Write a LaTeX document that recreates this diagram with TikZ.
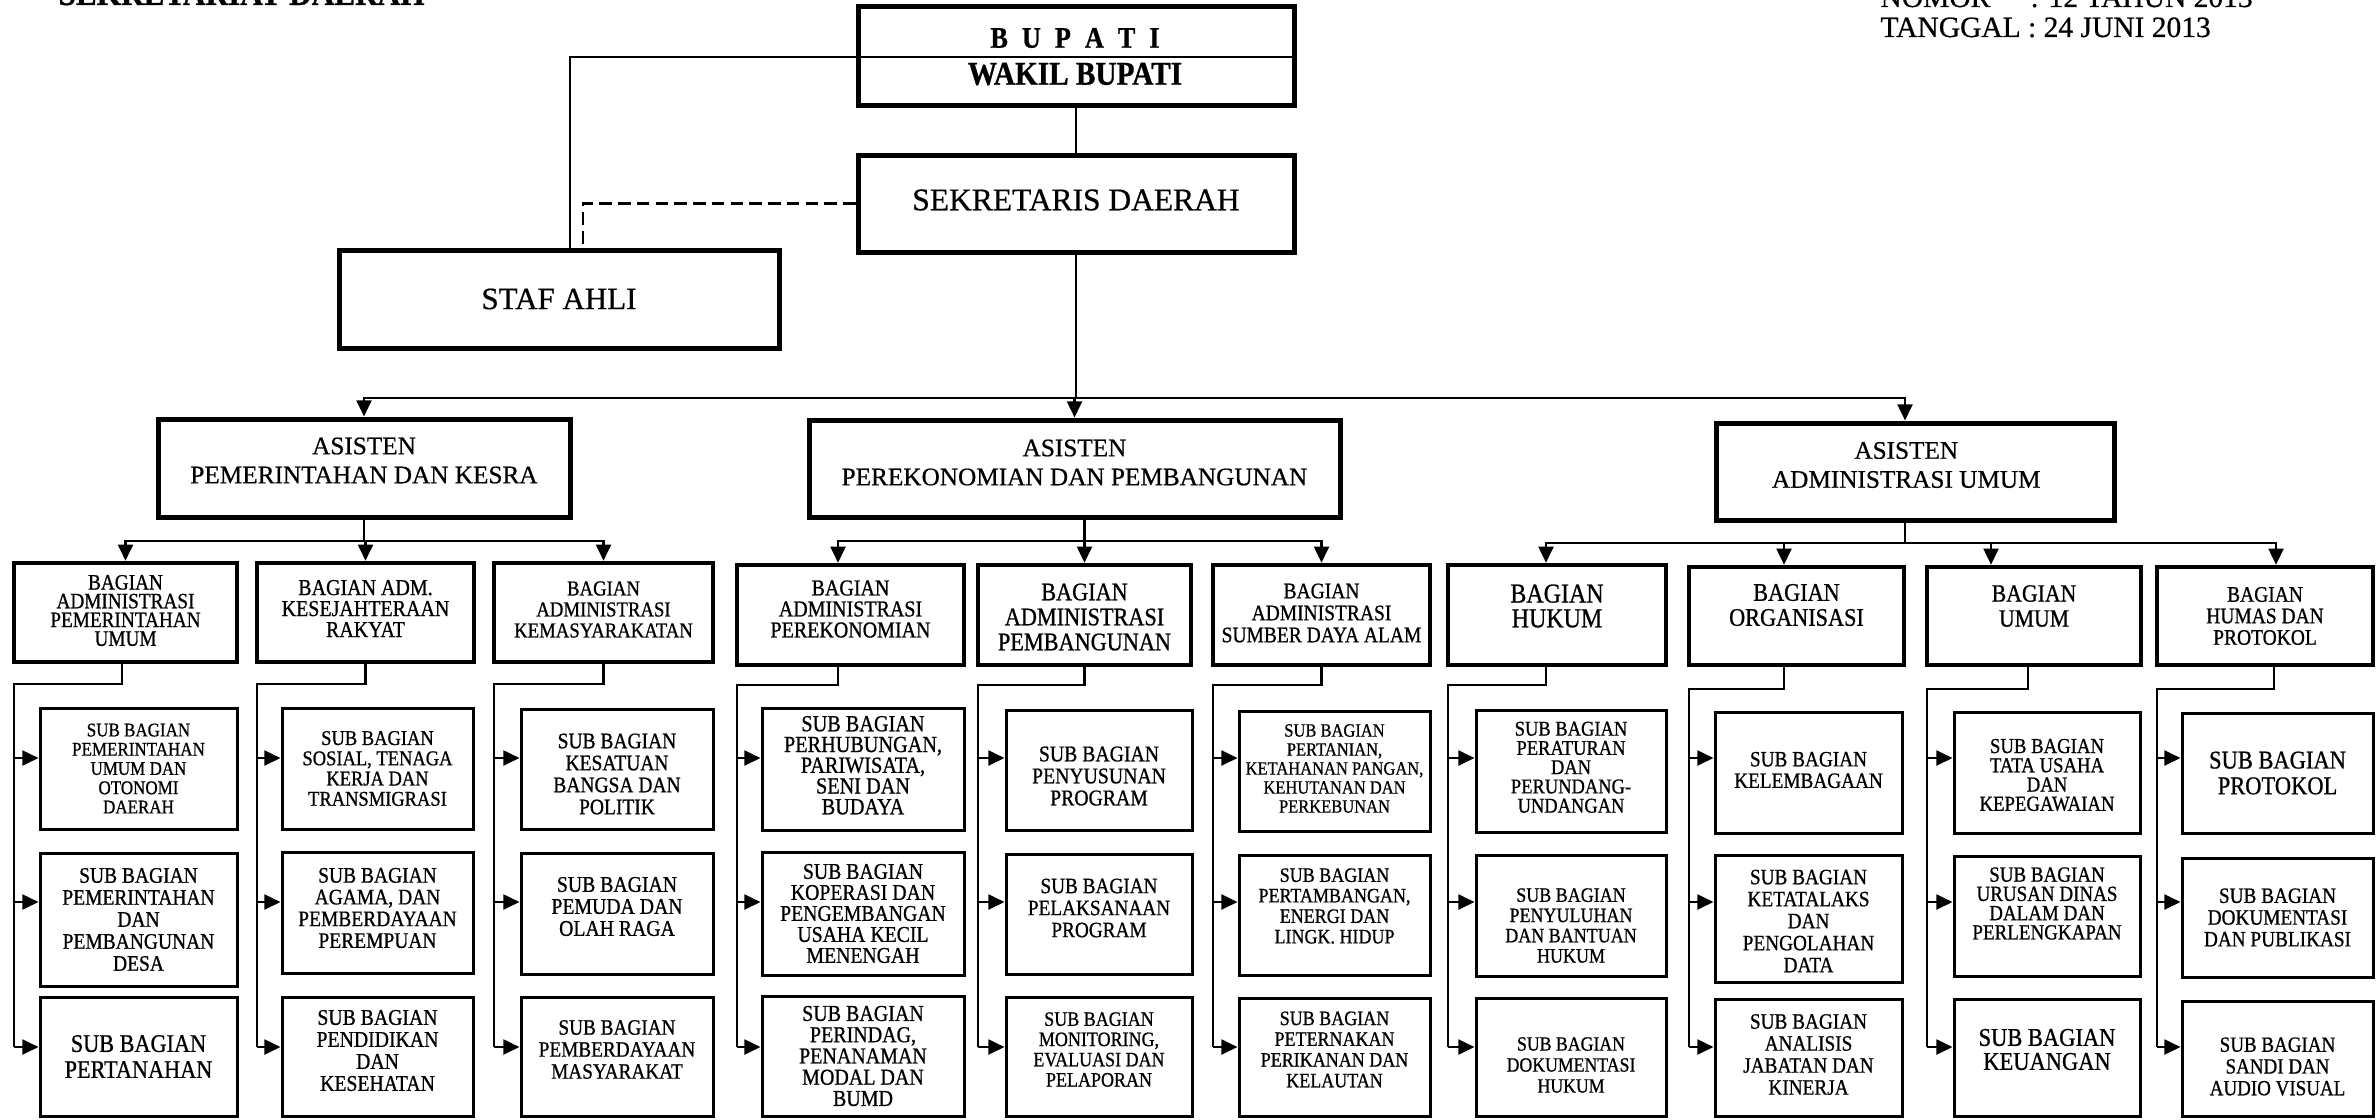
\documentclass[tikz,border=0pt]{standalone}
\usepackage{fontspec}
\setmainfont{Liberation Serif}
\newfontfamily\bxf{Liberation Serif}[FakeStretch=0.88, FakeBold=0.8]
\newfontfamily\mnf{Liberation Serif}[FakeBold=0.6]
\usetikzlibrary{fit,arrows.meta,calc}
\newcommand\fs[2]{\bxf\fontsize{\fpeval{#1/0.88}}{#2}\selectfont}
\newcommand\mf[2]{\mnf\fontsize{#1}{#2}\selectfont}
\tikzset{
  x=0.4pt, y=-0.4pt,
  mainbox/.style={draw, line width=2pt, inner sep=0pt},
  bagbox/.style={draw, line width=1.8pt, inner sep=0pt},
  subbox/.style={draw, line width=1.2pt, inner sep=0pt},
  txt/.style={align=center, inner sep=0pt},
  conn/.style={line width=1pt},
  arr/.style={line width=1pt, -{Triangle[length=6.5pt,width=6pt]}},
}
% name, style, x1, y1, x2, y2, shift, font, text
\newcommand\Bx[9]{%
  \node[fit={(#3,#4)(#5,#6)}, #2] (#1) {};
  \node[txt, font=#8] (#1-t) at ([#7]#1.center) {#9};}
% bagian name, bottom xshift, mid y
\newcommand\Col[3]{%
  \coordinate (#1-d) at ([xshift=#2]#1.south);
  \coordinate (#1-sp) at ([xshift=0.8pt]#1.south west);
  \draw[conn] (#1-d) |- (#1-sp |- 0,#3) -- (#1-sp |- ya3);
  \foreach \r in {1,2,3}{\draw[arr] (#1-sp |- ya\r) -- (#1s\r.west |- ya\r);}
}
\begin{document}
\begin{tikzpicture}
\fill[white] (0,0) rectangle (2376,1119);
\useasboundingbox (0,0) rectangle (2376,1119);

% header texts
\node[anchor=base west, inner sep=0pt, font={\fs{12.5}{14}\bfseries}] (title) at (58,5) {SEKRETARIAT DAERAH};
\node[anchor=base west, inner sep=0pt, font=\mf{11.8}{12}] (nomor) at (1880,7) {NOMOR};
\node[anchor=base west, inner sep=0pt, font=\mf{11.8}{12}] (nomorv) at (2030,7) {: 12 TAHUN 2013};
\node[anchor=base west, inner sep=0pt, font=\mf{11.8}{12}] (tanggal) at (1880,37) {TANGGAL : 24 JUNI 2013};

% top
\node[fit={(858,7)(1294,106)}, mainbox] (bupati) {};
\draw[conn] (bupati.west |- 0,57) -- (bupati.east |- 0,57);
\node[txt, font={\fs{10.5}{12}\bfseries}] (bupati-t1) at (1075,38) {\spaceskip=5.6pt\relax B U P A T I};
\node[txt, font={\fs{11.7}{13}\bfseries}] (bupati-t2) at (1075,74) {WAKIL BUPATI};

\Bx{sekda}{mainbox}{858}{155}{1294}{252}{yshift=1.4pt}{\mf{12.6}{14}}{SEKRETARIS DAERAH}
\Bx{staf}{mainbox}{339}{250}{779}{348}{yshift=0pt}{\mf{12.4}{14}}{STAF AHLI}

\draw[conn] (bupati.south) -- (sekda.north);
\draw[conn] (bupati.west |- 0,57) -| ([xshift=4.4pt]staf.north);
\draw[conn, dash pattern=on 5pt off 2.5pt] (sekda.west) -| ([xshift=9.6pt]staf.north);

% asisten
\Bx{a1}{mainbox}{158}{419}{570}{517}{yshift=3pt}{\mf{10.1}{11.6}}{ASISTEN\\PEMERINTAHAN DAN KESRA}
\Bx{a2}{mainbox}{809}{420}{1340}{517}{yshift=2.4pt}{\mf{10.1}{11.6}}{ASISTEN\\PEREKONOMIAN DAN PEMBANGUNAN}
\Bx{a3}{mainbox}{1716}{423}{2114}{520}{xshift=-3.5pt,yshift=2.6pt}{\mf{10.1}{11.6}}{ASISTEN\\ADMINISTRASI UMUM}

\coordinate (h0) at (sekda.south |- 0,398);
\draw[conn] (sekda.south) -- (h0);
\draw[arr] (h0) -| (a1.north);
\draw[arr] (h0) -| (a2.north);
\draw[arr] (h0) -| ([xshift=-4pt]a3.north);

% bagian
\Bx{b1}{bagbox}{14}{563}{237}{662}{yshift=0.8pt}{\fs{7.7}{7.5}}{BAGIAN\\ADMINISTRASI\\PEMERINTAHAN\\UMUM}
\Bx{b2}{bagbox}{257}{563}{474}{662}{yshift=1.6pt}{\fs{8}{8.4}}{BAGIAN ADM.\\KESEJAHTERAAN\\RAKYAT}
\Bx{b3}{bagbox}{494}{563}{713}{662}{yshift=1.2pt}{\fs{7.5}{8.4}}{BAGIAN\\ADMINISTRASI\\KEMASYARAKATAN}
\Bx{b4}{bagbox}{737}{565}{964}{665}{yshift=2.4pt}{\fs{8}{8.4}}{BAGIAN\\ADMINISTRASI\\PEREKONOMIAN}
\Bx{b5}{bagbox}{978}{565}{1191}{665}{yshift=-0.8pt}{\fs{8.9}{10}}{BAGIAN\\ADMINISTRASI\\PEMBANGUNAN}
\Bx{b6}{bagbox}{1213}{565}{1430}{665}{yshift=0.8pt}{\fs{7.8}{8.8}}{BAGIAN\\ADMINISTRASI\\SUMBER DAYA ALAM}
\Bx{b7}{bagbox}{1448}{565}{1666}{665}{yshift=3.6pt}{\fs{9.6}{9.9}}{BAGIAN\\HUKUM}
\Bx{b8}{bagbox}{1689}{567}{1904}{665}{yshift=4.4pt}{\fs{8.9}{10}}{BAGIAN\\ORGANISASI}
\Bx{b9}{bagbox}{1927}{567}{2141}{665}{yshift=4pt}{\fs{8.7}{10}}{BAGIAN\\UMUM}
\Bx{b10}{bagbox}{2157}{567}{2373}{665}{yshift=0pt}{\fs{7.8}{8.6}}{BAGIAN\\HUMAS DAN\\PROTOKOL}

\coordinate (h1) at (a1.south |- 0,541);
\draw[conn] (a1.south) -- (h1);
\draw[arr] (h1) -| (b1.north);
\draw[arr] (h1) -| (b2.north);
\draw[arr] (h1) -| (b3.north);

\coordinate (h2) at (b5.north |- 0,541);
\draw[conn] (a2.south -| h2) -- (h2);
\draw[arr] (h2) -| ([xshift=-5pt]b4.north);
\draw[arr] (h2) -| (b5.north);
\draw[arr] (h2) -| (b6.north);

\coordinate (a3s) at ([xshift=-4pt]a3.south);
\coordinate (h3) at (a3s |- 0,543);
\draw[conn] (a3s) -- (h3);
\draw[arr] (h3) -| ([xshift=-4.4pt]b7.north);
\draw[arr] (h3) -| ([xshift=-5pt]b8.north);
\draw[arr] (h3) -| ([xshift=-17.2pt]b9.north);
\draw[arr] (h3) -| ([xshift=4.4pt]b10.north);

% sub bagian
\coordinate (ya1) at (0,758);
\coordinate (ya2) at (0,902);
\coordinate (ya3) at (0,1047);

\Bx{b1s1}{subbox}{40}{708}{237}{829}{yshift=0pt}{\fs{6.8}{7.7}}{SUB BAGIAN\\PEMERINTAHAN\\UMUM DAN\\OTONOMI\\DAERAH}
\Bx{b1s2}{subbox}{40}{853}{237}{986}{yshift=0pt}{\fs{7.8}{8.8}}{SUB BAGIAN\\PEMERINTAHAN\\DAN\\PEMBANGUNAN\\DESA}
\Bx{b1s3}{subbox}{40}{997}{237}{1116}{yshift=0pt}{\fs{8.9}{10.4}}{SUB BAGIAN\\PERTANAHAN}

\Bx{b2s1}{subbox}{282}{708}{473}{829}{yshift=0pt}{\fs{7.4}{8.1}}{SUB BAGIAN\\SOSIAL, TENAGA\\KERJA DAN\\TRANSMIGRASI}
\Bx{b2s2}{subbox}{282}{852}{473}{973}{yshift=1.8pt}{\fs{7.8}{8.7}}{SUB BAGIAN\\AGAMA, DAN\\PEMBERDAYAAN\\PEREMPUAN}
\Bx{b2s3}{subbox}{282}{997}{473}{1116}{yshift=2.4pt}{\fs{7.9}{8.8}}{SUB BAGIAN\\PENDIDIKAN\\DAN\\KESEHATAN}

\Bx{b3s1}{subbox}{521}{709}{713}{829}{yshift=-2pt}{\fs{7.8}{8.8}}{SUB BAGIAN\\KESATUAN\\BANGSA DAN\\POLITIK}
\Bx{b3s2}{subbox}{521}{853}{713}{974}{yshift=2.8pt}{\fs{7.9}{8.8}}{SUB BAGIAN\\PEMUDA DAN\\OLAH RAGA}
\Bx{b3s3}{subbox}{521}{997}{713}{1116}{yshift=2.8pt}{\fs{7.7}{8.8}}{SUB BAGIAN\\PEMBERDAYAAN\\MASYARAKAT}

\Bx{b4s1}{subbox}{762}{708}{964}{830}{yshift=1.5pt}{\fs{8.1}{8.3}}{SUB BAGIAN\\PERHUBUNGAN,\\PARIWISATA,\\SENI DAN\\BUDAYA}
\Bx{b4s2}{subbox}{762}{852}{964}{975}{yshift=0pt}{\fs{7.9}{8.4}}{SUB BAGIAN\\KOPERASI DAN\\PENGEMBANGAN\\USAHA KECIL\\MENENGAH}
\Bx{b4s3}{subbox}{762}{996}{964}{1116}{yshift=0pt}{\fs{8}{8.5}}{SUB BAGIAN\\PERINDAG,\\PENANAMAN\\MODAL DAN\\BUMD}

\Bx{b5s1}{subbox}{1006}{710}{1192}{830}{yshift=-2.4pt}{\fs{7.9}{8.8}}{SUB BAGIAN\\PENYUSUNAN\\PROGRAM}
\Bx{b5s2}{subbox}{1006}{854}{1192}{974}{yshift=2.4pt}{\fs{7.7}{8.8}}{SUB BAGIAN\\PELAKSANAAN\\PROGRAM}
\Bx{b5s3}{subbox}{1006}{997}{1192}{1116}{yshift=2.8pt}{\fs{7.2}{8.1}}{SUB BAGIAN\\MONITORING,\\EVALUASI DAN\\PELAPORAN}

\Bx{b6s1}{subbox}{1239}{711}{1430}{831}{yshift=1pt}{\fs{6.6}{7.6}}{SUB BAGIAN\\PERTANIAN,\\KETAHANAN PANGAN,\\KEHUTANAN DAN\\PERKEBUNAN}
\Bx{b6s2}{subbox}{1239}{855}{1430}{975}{yshift=3.6pt}{\fs{7.2}{8.2}}{SUB BAGIAN\\PERTAMBANGAN,\\ENERGI DAN\\LINGK. HIDUP}
\Bx{b6s3}{subbox}{1239}{998}{1430}{1116}{yshift=3pt}{\fs{7.2}{8.3}}{SUB BAGIAN\\PETERNAKAN\\PERIKANAN DAN\\KELAUTAN}

\Bx{b7s1}{subbox}{1476}{710}{1666}{832}{yshift=1.5pt}{\fs{7.4}{7.7}}{SUB BAGIAN\\PERATURAN\\DAN\\PERUNDANG-\\UNDANGAN}
\Bx{b7s2}{subbox}{1476}{855}{1666}{976}{yshift=-4pt}{\fs{7.2}{8.1}}{SUB BAGIAN\\PENYULUHAN\\DAN BANTUAN\\HUKUM}
\Bx{b7s3}{subbox}{1476}{998}{1666}{1116}{yshift=-3.2pt}{\fs{7.1}{8.4}}{SUB BAGIAN\\DOKUMENTASI\\HUKUM}

\Bx{b8s1}{subbox}{1715}{712}{1902}{833}{yshift=1pt}{\fs{7.7}{8.6}}{SUB BAGIAN\\KELEMBAGAAN}
\Bx{b8s2}{subbox}{1715}{855}{1902}{982}{yshift=-1pt}{\fs{7.7}{8.8}}{SUB BAGIAN\\KETATALAKS\\DAN\\PENGOLAHAN\\DATA}
\Bx{b8s3}{subbox}{1715}{999}{1902}{1116}{yshift=1.2pt}{\fs{7.7}{8.8}}{SUB BAGIAN\\ANALISIS\\JABATAN DAN\\KINERJA}

\Bx{b9s1}{subbox}{1954}{712}{2140}{833}{yshift=-1pt}{\fs{7.5}{7.7}}{SUB BAGIAN\\TATA USAHA\\DAN\\KEPEGAWAIAN}
\Bx{b9s2}{subbox}{1954}{856}{2140}{976}{yshift=5pt}{\fs{7.6}{7.7}}{SUB BAGIAN\\URUSAN DINAS\\DALAM DAN\\PERLENGKAPAN}
\Bx{b9s3}{subbox}{1954}{999}{2140}{1116}{yshift=3.2pt}{\fs{9}{9.6}}{SUB BAGIAN\\KEUANGAN}

\Bx{b10s1}{subbox}{2182}{713}{2373}{833}{yshift=0pt}{\fs{9}{10.3}}{SUB BAGIAN\\PROTOKOL}
\Bx{b10s2}{subbox}{2182}{858}{2373}{977}{yshift=0pt}{\fs{7.7}{8.7}}{SUB BAGIAN\\DOKUMENTASI\\DAN PUBLIKASI}
\Bx{b10s3}{subbox}{2182}{1001}{2373}{1116}{yshift=-3.2pt}{\fs{7.6}{8.7}}{SUB BAGIAN\\SANDI DAN\\AUDIO VISUAL}

\Col{b1}{-1.4pt}{684}
\Col{b2}{0pt}{684}
\Col{b3}{0pt}{684}
\Col{b4}{-5pt}{685}
\Col{b5}{0pt}{685}
\Col{b6}{0pt}{685}
\Col{b7}{-4.4pt}{685}
\Col{b8}{-5pt}{689}
\Col{b9}{-2.4pt}{689}
\Col{b10}{3.6pt}{689}
\end{tikzpicture}
\end{document}
